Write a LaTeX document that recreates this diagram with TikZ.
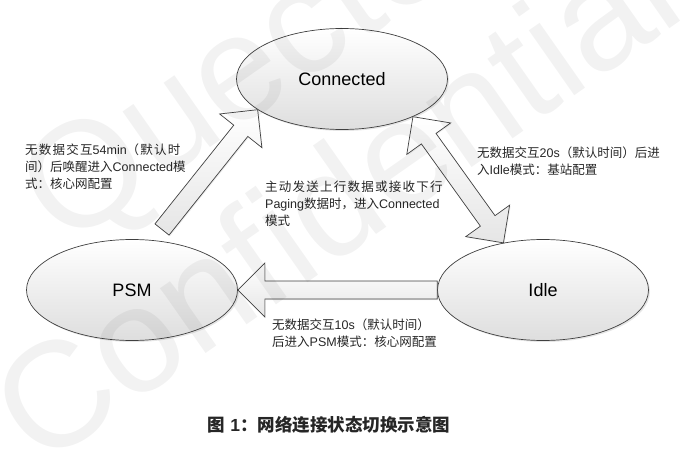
\documentclass[tikz,border=0pt]{standalone}
\usepackage{fontspec}
\setmainfont{Liberation Sans}
\newfontfamily\cjk{Noto Sans CJK SC}
\newfontfamily\cjkwide{Noto Sans CJK SC}[LetterSpace=10]
\usetikzlibrary{shapes.geometric,calc,shadows}

\definecolor{edgegray}{HTML}{404040}
\definecolor{textgray}{HTML}{262626}

\tikzset{
    state/.style={ellipse, draw=edgegray, line width=0.7pt,
        minimum width=211pt, minimum height=101pt, inner sep=0pt,
        top color=white, bottom color=black!13,
        drop shadow={shadow xshift=1.5pt, shadow yshift=-1.5pt, opacity=0.2},
        font=\fontsize{18}{20}\selectfont},
    blockarrow/.style={draw=edgegray, line width=0.7pt, line join=miter,
        top color=white, bottom color=black!10,
        drop shadow={shadow xshift=1pt, shadow yshift=-1pt, opacity=0.15}},
    note/.style={anchor=north west, inner sep=0pt, align=left, text=textgray,
        font=\fontsize{12.5}{17}\selectfont},
    watermark/.style={anchor=base west, rotate=35, inner sep=0pt,
        text=black, text opacity=0.05, font=\fontsize{150}{150}\selectfont}
}

% hollow arrow from #1 (tail) to #2 (tip)
\newcommand{\onearrow}[2]{%
    \coordinate (hb) at ($(#2)!27pt!(#1)$);
    \draw[blockarrow]
        ($(#1)!9pt!90:(#2)$) -- ($(hb)!9pt!90:(#2)$) -- ($(hb)!27pt!90:(#2)$) -- (#2)
        -- ($(hb)!27pt!-90:(#2)$) -- ($(hb)!9pt!-90:(#2)$) -- ($(#1)!9pt!-90:(#2)$) -- cycle;
}
% hollow arrow with a head at both ends
\newcommand{\twoarrow}[2]{%
    \coordinate (ha) at ($(#1)!27pt!(#2)$);
    \coordinate (hb) at ($(#2)!27pt!(#1)$);
    \draw[blockarrow]
        (#1) -- ($(ha)!27pt!90:(#2)$) -- ($(ha)!9pt!90:(#2)$)
        -- ($(hb)!9pt!90:(#2)$) -- ($(hb)!27pt!90:(#2)$) -- (#2)
        -- ($(hb)!27pt!-90:(#2)$) -- ($(hb)!9pt!-90:(#2)$)
        -- ($(ha)!9pt!-90:(#2)$) -- ($(ha)!27pt!-90:(#2)$) -- cycle;
}

\begin{document}
\begin{tikzpicture}[x=1pt, y=-1pt]

    \useasboundingbox (0,0) rectangle (680,457);

    %----- STATES -----
    \node[state] (conn) at (342,79)  {Connected};
    \node[state] (psm)  at (132,290) {PSM};
    \node[state] (idle) at (543,290) {Idle};

    %----- TRANSITIONS -----
    \coordinate (psmtail) at (162,229.5);
    \onearrow{psmtail}{conn.200}
    \onearrow{idle.west}{psm.east}
    \twoarrow{conn.332}{idle.130}

    %----- LABELS -----
    \node[note] (wakeup) at (25,143.5)
        {{\cjkwide 无数据交互}54min{\cjkwide （默认时}\\
         {\cjk 间）后唤醒进入}Connected{\cjk 模}\\
         {\cjk 式：核心网配置}};
    \node[note] (toidle) at (477,146.5)
        {{\cjk 无数据交互}20s{\cjk （默认时间）后进}\\
         {\cjk 入}Idle{\cjk 模式：基站配置}};
    \node[note] (toconn) at (265,180.5)
        {{\cjkwide 主动发送上行数据或接收下行}\\
         Paging{\cjk 数据时，进入}Connected\\
         {\cjk 模式}};
    \node[note] (topsm) at (272,318.5)
        {{\cjk 无数据交互}10s{\cjk （默认时间）}\\
         {\cjk 后进入}PSM{\cjk 模式：核心网配置}};

    %----- CAPTION -----
    \node[text=black!85, font=\bfseries\fontsize{17.5}{19}\selectfont] (caption) at (329,425)
        {{\cjk 图} 1{\cjk ：网络连接状态切换示意图}};

    %----- WATERMARK -----
    \node[watermark] (wmtop)    at (65,250) {Quectel};
    \node[watermark] (wmbottom) at (40,470) {Confidential};

\end{tikzpicture}
\end{document}
